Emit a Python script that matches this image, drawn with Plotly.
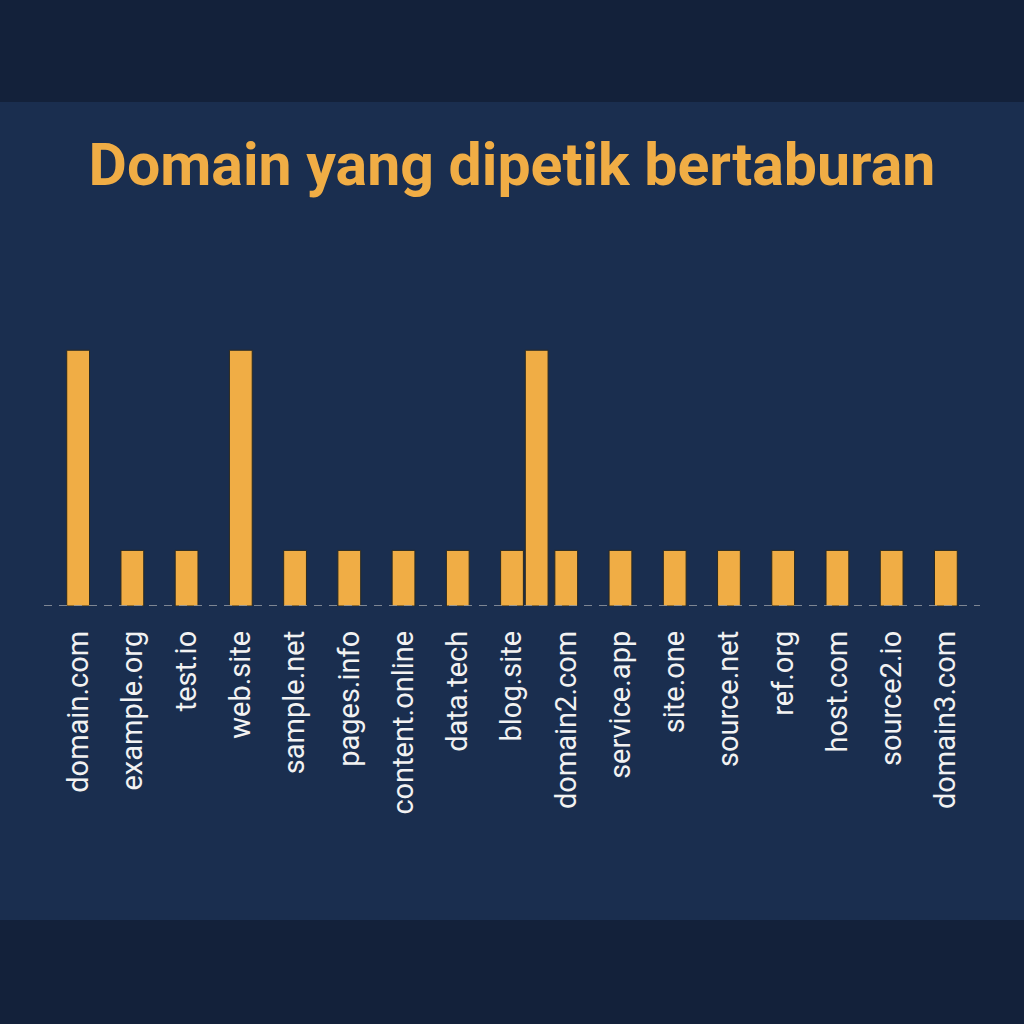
import plotly.graph_objects as go

# ---- data ----
domains = ["domain.com", "example.org", "test.io", "web.site", "sample.net",
           "pages.info", "content.online", "data.tech", "blog.site", "domain2.com",
           "service.app", "site.one", "source.net", "ref.org", "host.com",
           "source2.io", "domain3.com"]
counts = [4.6, 1, 1, 4.6, 1, 1, 1, 1, 1, 1, 1, 1, 1, 1, 1, 1, 1]
# extra (unlabelled) tall bar drawn right next to blog.site in the reference
extra_counts = [None, None, None, None, None, None, None, None, 4.6,
                None, None, None, None, None, None, None, None]

title_text = "Domain yang dipetik bertaburan"

# ---- style ----
W, H = 1024, 1024
ML, MR, MT, MB = 51, 51, 328, 418
BAR = "#f0ad45"
BG_DARK = "#13213a"
BG_MID = "#1a2e4f"

fig = go.Figure()
fig.add_trace(go.Bar(
    x=domains, y=counts, width=0.42, offset=-0.21,
    marker=dict(color=BAR, line=dict(color="#2a2a22", width=1)),
    showlegend=False, hoverinfo="x+y"))
fig.add_trace(go.Bar(
    x=domains, y=extra_counts, width=0.42, offset=0.245,
    marker=dict(color=BAR, line=dict(color="#2a2a22", width=1)),
    showlegend=False, hoverinfo="x+y"))

pw = W - ML - MR
ph = H - MT - MB
def py(p):  # pixel row -> paper y
    return (H - MB - p) / ph
def px(p):
    return (p - ML) / pw

shapes = [
    dict(type="rect", xref="paper", yref="paper",
         x0=px(0), x1=px(W), y0=py(920), y1=py(102),
         fillcolor=BG_MID, line=dict(width=0), layer="below"),
    dict(type="line", xref="paper", yref="y",
         x0=px(44), x1=px(980), y0=0, y1=0,
         line=dict(color="#a0a4ab", width=1.5, dash="8px,7px"), layer="above"),
]

fig.update_layout(
    width=W, height=H,
    margin=dict(l=ML, r=MR, t=MT, b=MB, autoexpand=False),
    paper_bgcolor=BG_DARK, plot_bgcolor="rgba(0,0,0,0)",
    barmode="overlay",
    shapes=shapes,
    title=dict(text=title_text, x=0.5, xanchor="center",
               y=1 - 164 / H, yanchor="middle", yref="container",
               font=dict(family="Roboto, sans-serif",
                         size=59, color=BAR, weight="bold")),
    xaxis=dict(type="category", range=[-0.5, 16.5], tickangle=-90,
               showgrid=False, zeroline=False, showline=False, ticks="",
               ticklabelstandoff=18,
               tickfont=dict(family="Roboto, sans-serif", size=29, color="#f2f2f2")),
    yaxis=dict(range=[0, 5], visible=False, showgrid=False, zeroline=False),
)

fig.write_html("out.html",
               config={"displayModeBar": False},
               post_script="document.body.style.margin='0';document.body.style.background='%s';" % BG_DARK)
